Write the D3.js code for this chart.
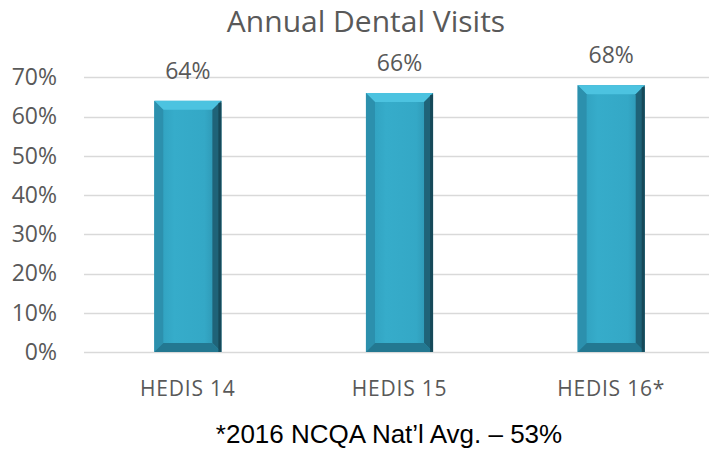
<!DOCTYPE html>
<html>
<head>
<meta charset="utf-8">
<script src="https://cdn.jsdelivr.net/npm/d3@7"></script>
<style>
  html, body { margin: 0; padding: 0; background: #fff; }
  svg { display: block; }
</style>
</head>
<body>
<svg id="chart" width="709" height="450"></svg>
<script>
const categories = ["HEDIS 14", "HEDIS 15", "HEDIS 16*"];
const values = [0.64, 0.66, 0.68];
const yTicks = [0, 0.1, 0.2, 0.3, 0.4, 0.5, 0.6, 0.7];
const titleText = "Annual Dental Visits";
const footnoteText = "*2016 NCQA Nat\u2019l Avg. \u2013 53%";

const W = 709, H = 450;
const svg = d3.select("#chart");
const font = "'Open Sans', 'Noto Sans', sans-serif";
const grey = "#595959";

const x = d3.scaleBand().domain(categories).range([82, 717]).paddingInner(0.683).paddingOuter(0.3415);
const y = d3.scaleLinear().domain([0, 0.7]).range([352, 77.3]);

// gridlines
svg.append("g").selectAll("line").data(yTicks).join("line")
  .attr("x1", 84).attr("x2", W)
  .attr("y1", d => Math.round(y(d)) + 0.5).attr("y2", d => Math.round(y(d)) + 0.5)
  .attr("stroke", "#d9d9d9").attr("stroke-width", 1.3);

// y axis labels
const yAxis = d3.axisLeft(y).tickValues(yTicks).tickFormat(d3.format(".0%")).tickSize(0).tickPadding(0);
const ya = svg.append("g").attr("transform", "translate(57,0)").call(yAxis);
ya.select(".domain").remove();
ya.selectAll("text").attr("font-family", font).attr("font-size", 23).attr("fill", grey);

// x axis labels
const xAxis = d3.axisBottom(x).tickSize(0).tickPadding(0);
const xa = svg.append("g").attr("transform", "translate(0,396)").call(xAxis);
xa.select(".domain").remove();
xa.selectAll("text").attr("font-family", font).attr("font-size", 21).attr("fill", grey)
  .attr("letter-spacing", 0.8).attr("y", 0).attr("dy", 0);

// defs for gradients
const defs = svg.append("defs");
const face = defs.append("linearGradient").attr("id", "face").attr("x1", 0).attr("x2", 1).attr("y1", 0).attr("y2", 0);
face.append("stop").attr("offset", 0).attr("stop-color", "#2f9dbb");
face.append("stop").attr("offset", 0.3).attr("stop-color", "#36acca");
face.append("stop").attr("offset", 0.75).attr("stop-color", "#34a8c6");
face.append("stop").attr("offset", 1).attr("stop-color", "#2b8eaa");

const bev = 9;
const bars = svg.append("g").selectAll("g").data(categories.map((c, i) => ({c, v: values[i]}))).join("g");

bars.each(function(d) {
  const g = d3.select(this);
  const x0 = x(d.c), x1 = x(d.c) + x.bandwidth();
  const y0 = y(d.v), y1 = y(0);
  g.append("rect").attr("x", x0).attr("y", y0).attr("width", x1 - x0).attr("height", y1 - y0).attr("fill", "url(#face)");
  g.append("polygon").attr("points", [[x0, y0], [x1, y0], [x1 - bev, y0 + bev], [x0 + bev, y0 + bev]].join(" "))
    .attr("fill", "#4cc3e0");
  g.append("polygon").attr("points", [[x1, y0], [x1, y1], [x1 - bev, y1 - bev], [x1 - bev, y0 + bev]].join(" "))
    .attr("fill", "#1f6378");
  g.append("polygon").attr("points", [[x0, y0], [x0 + bev, y0 + bev], [x0 + bev, y1 - bev], [x0, y1]].join(" "))
    .attr("fill", "#2c90ad");
  g.append("polygon").attr("points", [[x0, y1], [x0 + bev, y1 - bev], [x1 - bev, y1 - bev], [x1, y1]].join(" "))
    .attr("fill", "#237891");
  g.append("rect").attr("x", x1 - 3).attr("y", y0 + 2).attr("width", 3).attr("height", y1 - y0 - 2).attr("fill", "#123e4c").attr("opacity", 0.7);
  g.append("text").attr("x", (x0 + x1) / 2).attr("y", y0 - 22)
    .attr("text-anchor", "middle").attr("font-family", font).attr("font-size", 23).attr("fill", grey)
    .text(d3.format(".0%")(d.v));
});

// title
svg.append("text").attr("x", 366).attr("y", 32).attr("text-anchor", "middle")
  .attr("font-family", font).attr("font-size", 30).attr("fill", grey).text(titleText);

// footnote
svg.append("text").attr("x", 389).attr("y", 443).attr("text-anchor", "middle")
  .attr("font-family", "'Liberation Sans', Arial, sans-serif").attr("font-size", 26).attr("fill", "#000").text(footnoteText);
</script>
</body>
</html>
